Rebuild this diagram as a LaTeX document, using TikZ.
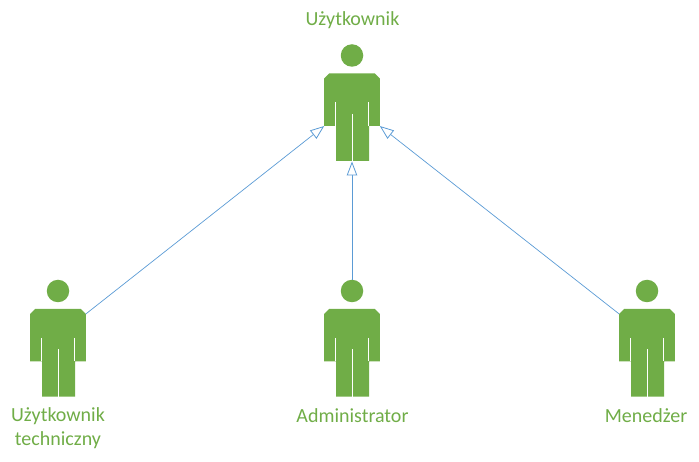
\documentclass[tikz,border=0pt]{standalone}
\usepackage{fontspec}
\setmainfont{Carlito}
\usepackage{xcolor}
\usetikzlibrary{arrows.meta}
\definecolor{actorgreen}{HTML}{70AD47}
\definecolor{linkblue}{HTML}{5B9BD5}
\tikzset{
	actorhead/.style={circle, fill=actorgreen, inner sep=0pt, minimum size=22.5pt},
	actorlabel/.style={text=actorgreen, font=\fontsize{20}{24}\selectfont, align=center},
	generalize/.style={draw=linkblue, line width=0.7pt, -{Triangle[open, fill=white, length=14pt, width=10.5pt, line width=0.8pt]}},
	actor/.pic={
		\node[actorhead] (-head) at (0,-18) {};
		\fill[actorgreen] (-22.8,0) -- (22.8,0) -- (27.8,5) -- (27.8,52.5) -- (17,52.5) -- (17,87.5)
			-- (-16,87.5) -- (-16,52.5) -- (-27.8,52.5) -- (-27.8,5) -- cycle;
		\draw[white, line width=1pt] (-16.5,29) -- (-16.5,52.5);
		\draw[white, line width=1pt] (16.5,29) -- (16.5,52.5);
		\draw[white, line width=1pt] (0,40.5) -- (0,88);
		\coordinate (-armleft) at (-27.8,52.5);
		\coordinate (-armright) at (27.8,52.5);
		\coordinate (-shoulderleft) at (-27.8,5);
		\coordinate (-shoulderright) at (27.8,5);
		\coordinate (-feet) at (0,88);
	}
}
\begin{document}
\begin{tikzpicture}[x=1pt, y=-1pt]
	\useasboundingbox (0,0) rectangle (699,462);

	\pic (user) at (352,73.5) {actor};
	\pic (tech) at (58,309) {actor};
	\pic (admin) at (352,309) {actor};
	\pic (manager) at (647,309) {actor};

	\node[actorlabel] (userlabel) at (352.5,20) {Użytkownik};
	\node[actorlabel] (techlabel) at (58,428) {Użytkownik\\techniczny};
	\node[actorlabel] (adminlabel) at (352.5,416) {Administrator};
	\node[actorlabel] (managerlabel) at (646,416) {Menedżer};

	\draw[generalize] (tech-shoulderright) -- (user-armleft);
	\draw[generalize] (admin-head) -- (user-feet);
	\draw[generalize] (manager-shoulderleft) -- (user-armright);
\end{tikzpicture}
\end{document}
